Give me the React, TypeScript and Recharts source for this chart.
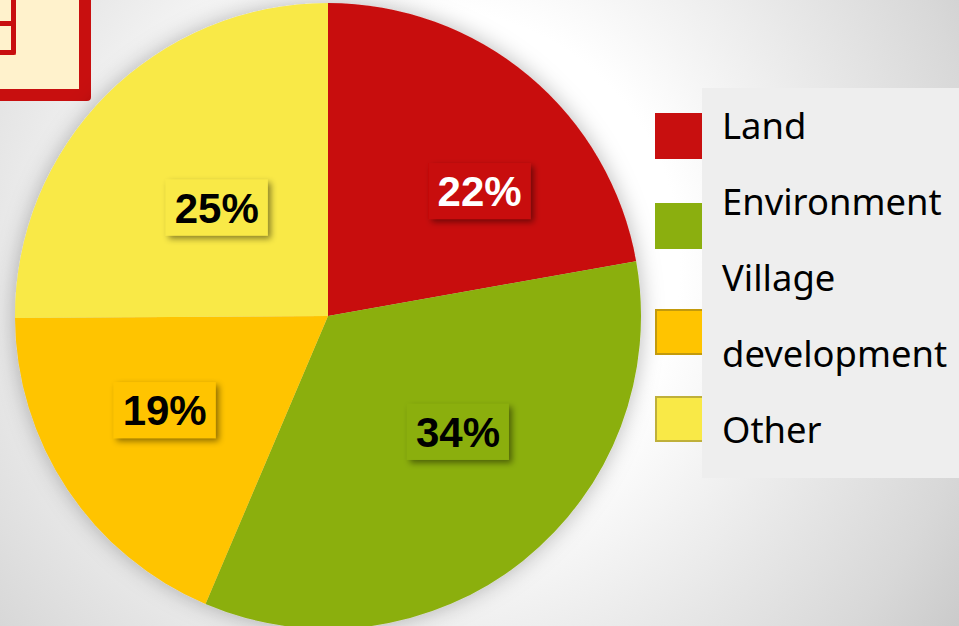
import React from "react";
import { PieChart, Pie, Legend } from "recharts";

const categories = ["Land", "Environment", "Village development", "Other"];
const shares = [22.2, 34.2, 18.5, 25.1];
const colors = ["#C80F0F", "#8BAF0F", "#FFC400", "#F9E947"];
const swatchBorders = ["none", "none", "2px solid #C39A0C", "2px solid #BFB03A"];
const labelColors = ["#FFFFFF", "#000000", "#000000", "#000000"];
const labelNudges = [
  [31, 19],
  [13, -31],
  [-7, -10],
  [22, 24],
];
const swatchTops = [113, 203, 309, 396];
const textTops = [87, 163, 239, 391];

const table = categories.map((name, i) => ({ name, value: shares[i], fill: colors[i] }));

const FONT = '"Noto Sans", sans-serif';
const RAD = Math.PI / 180;

function renderLabel(p: any) {
  const r = p.outerRadius * 0.6;
  const x = p.cx + r * Math.cos(-p.midAngle * RAD) + labelNudges[p.index][0];
  const y = p.cy + r * Math.sin(-p.midAngle * RAD) + labelNudges[p.index][1];
  return (
    <g key={p.index}>
      <rect x={x - 51} y={y - 28} width={102} height={56} fill={colors[p.index]} filter="url(#labelShadow)" />
      <text
        x={x}
        y={y + 15}
        textAnchor="middle"
        fontFamily='"Liberation Sans", Arial, sans-serif'
        fontWeight={700}
        fontSize={42}
        fill={labelColors[p.index]}
      >
        {Math.round(shares[p.index])}%
      </text>
    </g>
  );
}

function LegendPanel() {
  return (
    <div style={{ position: "absolute", left: 0, top: 0, width: 304, height: 478 }}>
      <div style={{ position: "absolute", left: 47, top: 88, width: 257, height: 390, background: "#EEEEEE" }} />
      {categories.map((c, i) => (
        <div
          key={c}
          style={{
            position: "absolute",
            left: 0,
            top: swatchTops[i],
            width: 47,
            height: 46,
            boxSizing: "border-box",
            background: colors[i],
            border: swatchBorders[i],
            borderRight: "none",
          }}
        />
      ))}
      {categories.map((c, i) => (
        <div
          key={c + "t"}
          style={{
            position: "absolute",
            left: 67,
            top: textTops[i],
            width: 236,
            fontFamily: FONT,
            fontSize: 36.4,
            lineHeight: "76px",
            height: 50,
            color: "#000",
            whiteSpace: "normal",
          }}
        >
          {c}
        </div>
      ))}
    </div>
  );
}

export default function App() {
  return (
    <div
      style={{
        position: "absolute",
        left: 0,
        top: 0,
        width: 959,
        height: 626,
        overflow: "hidden",
        background:
          "radial-gradient(circle 660px at 430px 260px, #FFFFFF 0px, #FFFFFF 250px, #F2F2F2 350px, #E8E8E8 430px, #D8D8D8 560px, #C8C8C8 660px)",
      }}
    >
      <style>{`.recharts-pie { filter: url(#pieShadow); }`}</style>
      <div
        style={{
          position: "absolute",
          left: -20,
          top: -20,
          width: 111,
          height: 121,
          boxSizing: "border-box",
          background: "#FFF2CC",
          border: "12px solid #C80F0F",
          borderRadius: 4,
        }}
      >
        <div
          style={{
            position: "absolute",
            left: -10,
            top: -10,
            width: 34,
            height: 73,
            boxSizing: "border-box",
            borderRight: "5px solid #C80F0F",
            borderBottom: "5px solid #C80F0F",
            borderRadius: 2,
          }}
        />
        <div style={{ position: "absolute", left: -8, top: 29, width: 30, height: 5, background: "#C80F0F" }} />
      </div>
      <PieChart width={959} height={626} margin={{ top: 0, right: 0, bottom: 0, left: 0 }} style={{ position: "absolute", left: 0, top: 0 }}>
        <defs>
          <filter id="labelShadow" x="-20%" y="-30%" width="150%" height="170%">
            <feDropShadow dx={3} dy={3} stdDeviation={3} floodColor="#000" floodOpacity={0.45} />
          </filter>
          <filter id="pieShadow" x="-10%" y="-10%" width="120%" height="120%">
            <feDropShadow dx={0} dy={0} stdDeviation={11} floodColor="#000" floodOpacity={0.28} />
          </filter>
        </defs>
        <Legend
          content={<LegendPanel />}
          wrapperStyle={{ position: "absolute", left: 655, top: 0, width: 304, height: 478, bottom: "auto", right: "auto" }}
        />
        <Pie
          data={table}
          dataKey="value"
          nameKey="name"
          cx={328}
          cy={316}
          outerRadius={313}
          startAngle={90}
          endAngle={-270}
          stroke="none"
          isAnimationActive={false}
          labelLine={false}
          label={renderLabel}
        />
      </PieChart>
    </div>
  );
}
